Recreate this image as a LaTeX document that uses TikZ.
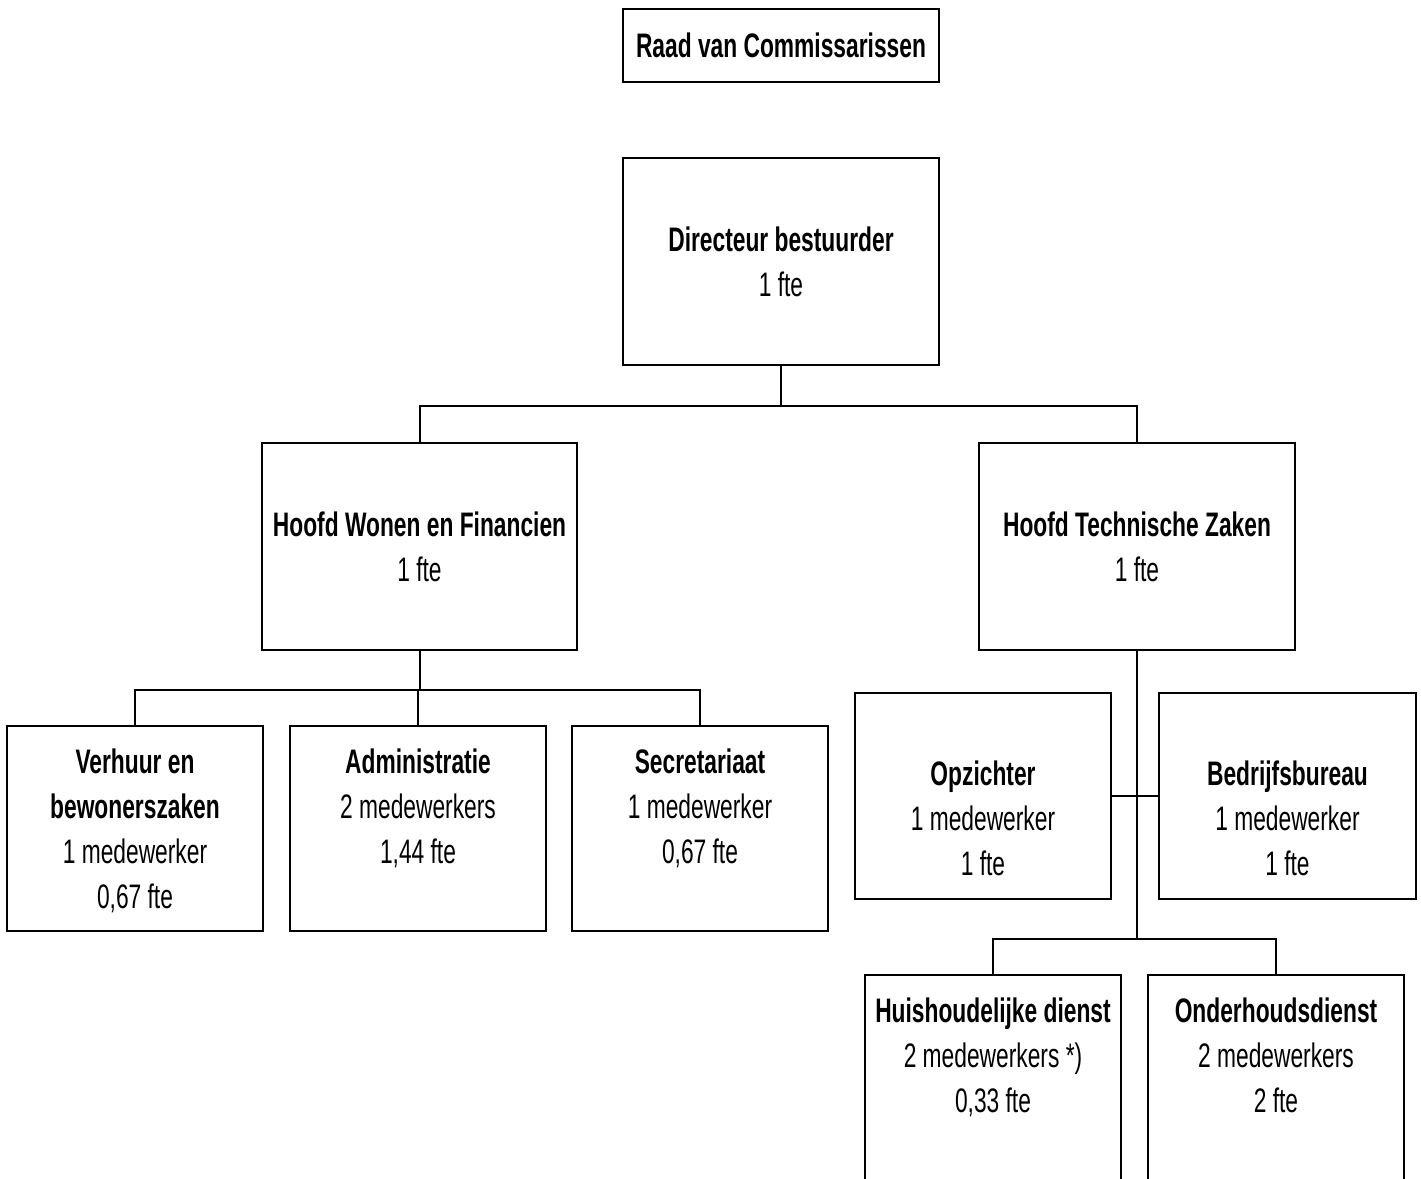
\documentclass[tikz,border=0pt]{standalone}
\usepackage{fontspec}
\setmainfont{Liberation Sans}[FakeStretch=0.67]
\newcommand\lnstrut{\rule[-10.5pt]{0pt}{45pt}}
\begin{document}
\begin{tikzpicture}[x=1pt,y=-1pt,
  every node/.style={font=\fontsize{34}{45}\selectfont},
  box/.style={draw=black,line width=2.5pt,rectangle,inner sep=0pt,align=center,
    minimum width=256pt,minimum height=206pt},
  wbox/.style={box,minimum width=316pt,minimum height=207pt},
  conn/.style={draw=black,line width=2pt}]
\clip (0,0) rectangle (1421,1178);
\useasboundingbox (0,0) rectangle (1421,1178);
\fill[white] (0,0) rectangle (1421,1178);

\node[box,minimum width=316pt,minimum height=73pt] (raad) at (781,45.5)
  {\lnstrut\textbf{Raad van Commissarissen}};
\node[wbox] (dir) at (781,261.5)
  {\lnstrut\textbf{Directeur bestuurder}\\\lnstrut 1 fte};
\node[wbox,minimum width=315pt] (hwf) at (419.5,546.5)
  {\lnstrut\textbf{Hoofd Wonen en Financien}\\\lnstrut 1 fte};
\node[wbox] (htz) at (1137,546.5)
  {\lnstrut\textbf{Hoofd Technische Zaken}\\\lnstrut 1 fte};

\node[box,minimum height=205pt] (verh) at (135,828.5)
  {\lnstrut\textbf{Verhuur en}\\\lnstrut\textbf{bewonerszaken}\\\lnstrut 1 medewerker\\\lnstrut 0,67 fte};
\node[box,minimum height=205pt] (adm) at (418,828.5)
  {\lnstrut\textbf{Administratie}\\\lnstrut 2 medewerkers\\\lnstrut 1,44 fte\\\lnstrut};
\node[box,minimum height=205pt] (sec) at (700,828.5)
  {\lnstrut\textbf{Secretariaat}\\\lnstrut 1 medewerker\\\lnstrut 0,67 fte\\\lnstrut};

\node[box] (opz) at (983,796)
  {\lnstrut\\\lnstrut\textbf{Opzichter}\\\lnstrut 1 medewerker\\\lnstrut 1 fte};
\node[box,minimum width=257pt] (bed) at (1287.5,796)
  {\lnstrut\\\lnstrut\textbf{Bedrijfsbureau}\\\lnstrut 1 medewerker\\\lnstrut 1 fte};

\node[box] (huis) at (993,1078)
  {\lnstrut\textbf{Huishoudelijke dienst}\\\lnstrut 2 medewerkers *)\\\lnstrut 0,33 fte\\\lnstrut};
\node[box] (ond) at (1276,1078)
  {\lnstrut\textbf{Onderhoudsdienst}\\\lnstrut 2 medewerkers\\\lnstrut 2 fte\\\lnstrut};

\coordinate (j1) at (781,406);
\coordinate (j2) at (419.5,690);
\coordinate (j3) at (1137,939);

\draw[conn] (dir.south) -- (j1);
\draw[conn] (hwf.north) |- (j1) -| (htz.north);

\draw[conn] (hwf.south) -- (j2);
\draw[conn] (verh.north) |- (j2) -| (sec.north);
\draw[conn] (adm.north |- j2) -- (adm.north);

\draw[conn] (htz.south) -- (j3);
\draw[conn] (opz.east) -- (bed.west);
\draw[conn] (huis.north) |- (j3) -| (ond.north);
\end{tikzpicture}
\end{document}
